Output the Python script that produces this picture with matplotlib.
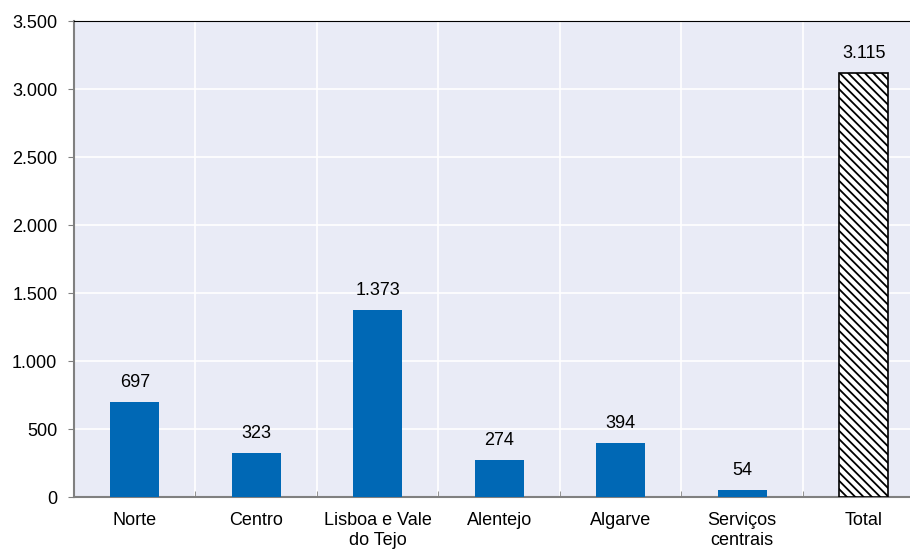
import matplotlib.pyplot as plt
from matplotlib.ticker import FuncFormatter, MultipleLocator
import numpy as np

plt.rcParams["font.family"] = ["Liberation Sans", "DejaVu Sans"]
plt.rcParams["hatch.linewidth"] = 1.3

regions = ["Norte", "Centro", "Lisboa e Vale\ndo Tejo", "Alentejo", "Algarve",
           "Serviços\ncentrais", "Total"]
values = [697, 323, 1373, 274, 394, 54, 3115]

fig = plt.figure(figsize=(9.1, 5.49), dpi=100)
# the plot area runs a bit past the right edge of the figure
ax = fig.add_axes([0.0813, 0.0947, 0.9346, 0.867])
ax.set_facecolor("#E9EBF6")

x = np.arange(len(regions))
ax.bar(x[:-1], values[:-1], width=0.40, color="#0068B5", zorder=3)
ax.bar(x[-1], values[-1], width=0.40, color="white", edgecolor="black",
       hatch="\\\\\\\\", linewidth=1.2, zorder=3)

for xi, v in zip(x, values):
    ax.annotate(f"{v:,}".replace(",", "."), (xi, v), xytext=(0, 8),
                textcoords="offset points", ha="center", va="bottom", fontsize=13)

ax.set_xlim(-0.5, len(regions) - 0.5)
ax.set_ylim(0, 3500)
ax.yaxis.set_major_locator(MultipleLocator(500))
ax.yaxis.set_major_formatter(FuncFormatter(lambda v, p: f"{int(v):,}".replace(",", ".")))

ax.set_xticks(x)
ax.set_xticklabels(regions, fontsize=13)
ax.set_xticks(x[:-1] + 0.5, minor=True)
ax.tick_params(axis="x", which="major", length=0, pad=11)
ax.tick_params(axis="x", which="minor", direction="in", length=4, color="#808080")
ax.tick_params(axis="y", length=4, color="#808080", labelsize=13, pad=8)

ax.grid(axis="y", color="white", linewidth=1.2, zorder=1)
ax.grid(axis="x", which="minor", color="white", linewidth=1.2, zorder=1)
ax.set_axisbelow(True)

for s in ["left", "bottom"]:
    ax.spines[s].set_color("#808080")
    ax.spines[s].set_linewidth(1.5)
ax.spines["top"].set_color("black")
ax.spines["top"].set_linewidth(0.8)
ax.spines["right"].set_visible(False)

fig.savefig("out.png", dpi=100)
